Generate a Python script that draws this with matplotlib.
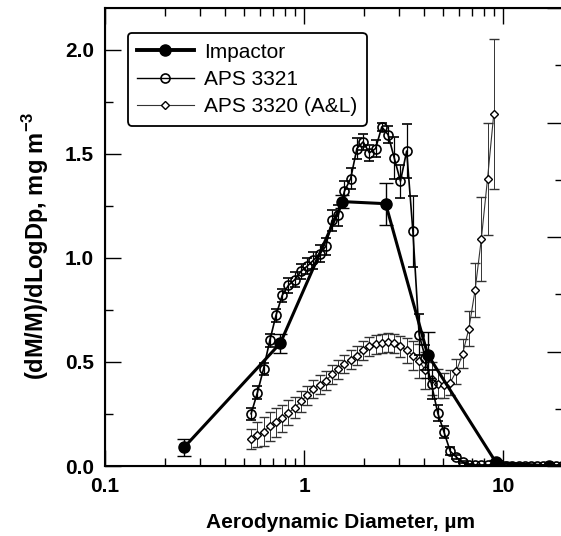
import numpy as np
import matplotlib
matplotlib.use('Agg')
import matplotlib.pyplot as plt
from matplotlib.lines import Line2D
from matplotlib.ticker import MultipleLocator, LogLocator, NullFormatter

plt.rcParams['font.family'] = ['Liberation Sans', 'DejaVu Sans']
plt.rcParams['mathtext.fontset'] = 'custom'
plt.rcParams['mathtext.rm'] = 'Liberation Sans'
plt.rcParams['mathtext.bf'] = 'Liberation Sans:bold'

# Impactor stages
imp_d = [0.25, 0.76, 1.56, 2.57, 4.18, 9.2, 17.0]
imp_y = [0.09, 0.59, 1.27, 1.26, 0.535, 0.018, 0.0]
imp_err = [0.04, 0.045, 0.03, 0.10, 0.11, 0.01, 0.005]

# APS channel midpoints (um)
aps_d = [0.542, 0.583, 0.626, 0.673, 0.723, 0.777, 0.835, 0.898, 0.965, 1.037,
         1.114, 1.197, 1.286, 1.382, 1.486, 1.596, 1.715, 1.843, 1.981, 2.129,
         2.288, 2.458, 2.642, 2.839, 3.051, 3.278, 3.523, 3.786, 4.068, 4.371,
         4.698, 5.048, 5.425, 5.829, 6.264, 6.732, 7.234, 7.774, 8.354, 8.977,
         9.647, 10.37, 11.14, 11.97, 12.86, 13.82, 14.86, 15.96, 17.15, 18.43,
         19.81]

# APS 3321
a21_y = [0.251, 0.352, 0.467, 0.603, 0.724, 0.820, 0.868, 0.895, 0.935, 0.960,
         0.988, 1.020, 1.055, 1.180, 1.204, 1.320, 1.381, 1.525, 1.557, 1.504,
         1.525, 1.629, 1.592, 1.480, 1.368, 1.513, 1.127, 0.631, 0.520, 0.392,
         0.254, 0.163, 0.071, 0.042, 0.018, 0.007, 0.004, 0.003, 0.003, 0.002,
         0.002, 0.002, 0.002, 0.002, 0.001, 0.001, 0.001, 0.001, 0.001, 0.001,
         0.001]
a21_err = [0.03, 0.03, 0.03, 0.03, 0.03, 0.03, 0.035, 0.035, 0.035, 0.04,
           0.04, 0.04, 0.04, 0.05, 0.05, 0.05, 0.05, 0.05, 0.04, 0.04,
           0.04, 0.02, 0.04, 0.10, 0.08, 0.13, 0.17, 0.10, 0.06, 0.07,
           0.04, 0.03, 0.02, 0.01, 0.005, 0.003, 0.002, 0.002, 0.002, 0.002,
           0.002, 0.002, 0.002, 0.002, 0.002, 0.002, 0.002, 0.002, 0.002, 0.002,
           0.002]

# APS 3320 (A&L), first 40 channels
a20_y = [0.13, 0.15, 0.165, 0.19, 0.21, 0.23, 0.255, 0.28, 0.31, 0.34,
         0.37, 0.39, 0.41, 0.44, 0.465, 0.49, 0.51, 0.53, 0.555, 0.575,
         0.585, 0.59, 0.595, 0.59, 0.575, 0.555, 0.53, 0.505, 0.46, 0.42,
         0.395, 0.387, 0.40, 0.456, 0.54, 0.66, 0.845, 1.09, 1.38, 1.69]
a20_err = [0.05, 0.06, 0.07, 0.07, 0.07, 0.065, 0.06, 0.05, 0.05, 0.045,
           0.045, 0.045, 0.045, 0.045, 0.045, 0.045, 0.045, 0.045, 0.045, 0.045,
           0.045, 0.045, 0.045, 0.045, 0.05, 0.06, 0.07, 0.08, 0.09, 0.08,
           0.07, 0.06, 0.06, 0.06, 0.07, 0.085, 0.13, 0.20, 0.27, 0.36]

fig = plt.figure(figsize=(5.61, 5.36), dpi=100)
ax = fig.add_axes([105 / 561, 70 / 536, 458 / 561, 458 / 536])

ax.errorbar(aps_d[:len(a20_y)], a20_y, yerr=a20_err, color='0.2', lw=0.8,
            elinewidth=0.7, capsize=3.5, capthick=0.7, marker='D', ms=3.6,
            mfc='white', mec='black', mew=1.0, zorder=2)
ax.errorbar(aps_d, a21_y, yerr=a21_err, color='black', lw=1.2,
            elinewidth=0.9, capsize=3.5, capthick=0.9, marker='o', ms=6.5,
            mfc='none', mec='black', mew=1.2, zorder=3)
ax.errorbar(imp_d, imp_y, yerr=imp_err, color='black', lw=2.2,
            elinewidth=1.0, capsize=5, capthick=1.0, marker='o', ms=8,
            mfc='black', mec='black', zorder=4)

ax.set_xscale('log')
ax.set_xlim(0.1, 20)
ax.set_ylim(0, 2.2)
ax.set_xticks([0.1, 1, 10])
ax.set_xticklabels(['0.1', '1', '10'])
ax.xaxis.set_minor_locator(LogLocator(base=10, subs=np.arange(2, 10)))
ax.xaxis.set_minor_formatter(NullFormatter())
ax.yaxis.set_major_locator(MultipleLocator(0.5))
ax.yaxis.set_minor_locator(MultipleLocator(0.25))
ax.yaxis.set_major_formatter(plt.FormatStrFormatter('%.1f'))
ax.tick_params(which='both', direction='in', top=True, right=False, width=1.0)
ax.tick_params(which='major', length=11.5, labelsize=15, pad=8)
ax.tick_params(which='minor', length=6)
for lab in ax.get_xticklabels() + ax.get_yticklabels():
    lab.set_fontweight('bold')
for sp in ax.spines.values():
    sp.set_linewidth(1.5)

ax2 = ax.twinx()
ax2.set_ylim(0, 4)
ax2.yaxis.set_major_locator(MultipleLocator(1))
ax2.yaxis.set_minor_locator(MultipleLocator(0.5))
ax2.tick_params(which='both', direction='in', labelright=False, width=1.0)
ax2.tick_params(which='major', length=11.5)
ax2.tick_params(which='minor', length=6)
ax2.spines['right'].set_linewidth(1.5)

ax.set_xlabel('Aerodynamic Diameter, µm', fontsize=15, fontweight='bold')
ax.xaxis.set_label_coords(0.515, -0.103)
ax.set_ylabel(r'(dM/M)/dLogDp, mg m$^{\mathbf{-3}}$', fontsize=17,
              fontweight='bold')
ax.yaxis.set_label_coords(-0.117, 0.48)

handles = [
    Line2D([], [], color='black', lw=2.8, marker='o', ms=8, mfc='black'),
    Line2D([], [], color='black', lw=1.0, marker='o', ms=6.5, mfc='none', mew=1.2),
    Line2D([], [], color='0.2', lw=0.8, marker='D', ms=4, mfc='white', mec='black'),
]
labels = ['Impactor', 'APS 3321', 'APS 3320 (A&L)']
leg = ax2.legend(handles, labels, loc='upper left', bbox_to_anchor=(0.05, 0.945),
                 borderaxespad=0, fontsize=15, frameon=True, fancybox=True,
                 handlelength=2.7, handletextpad=0.5, labelspacing=0.4,
                 borderpad=0.45)
leg.get_frame().set_edgecolor('black')
leg.get_frame().set_linewidth(1.3)
leg.get_frame().set_alpha(1)

fig.savefig('out.png', dpi=100)
